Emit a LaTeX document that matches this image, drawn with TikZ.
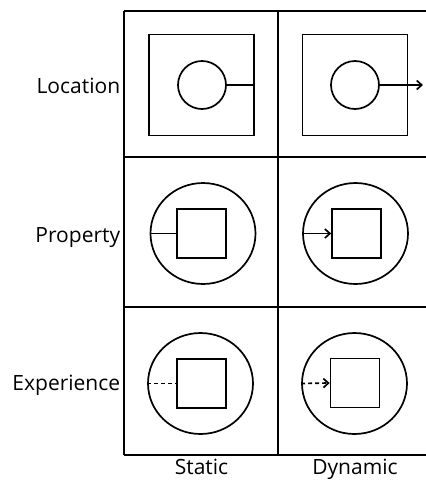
\documentclass[tikz,border=0pt]{standalone}
\usepackage{fontspec}
\setmainfont{Open Sans}
\usetikzlibrary{shapes.geometric,arrows.meta}
\begin{document}
\begin{tikzpicture}[x=1pt,y=-1pt,line width=1.7pt,
    bigbox/.style={draw,rectangle,minimum width=105pt,minimum height=101pt,inner sep=0pt},
    smallbox/.style={draw,rectangle,minimum size=49pt,inner sep=0pt},
    ring/.style={draw,circle,minimum size=48pt,inner sep=0pt},
    oval/.style={draw,ellipse,minimum width=105pt,minimum height=101pt,inner sep=0pt},
    lbl/.style={font=\fontsize{21}{25}\selectfont},
    tip/.style={-{Straight Barb[length=5pt,width=9pt,line width=1.7pt]}}]
    \useasboundingbox (0,0) rectangle (426,480);
    % table lines, cut off at the right
    \draw (124,11) -- (124,455);
    \draw (278,11) -- (278,455);
    \draw (124,11) -- (426,11);
    \draw (124,157) -- (426,157);
    \draw (124,307) -- (426,307);
    \draw (124,455) -- (426,455);
    % location
    \node[bigbox] (locS) at (201.5,85) {};
    \node[ring] (locSc) at (202,85) {};
    \draw (locSc.east) -- (locS.east);
    \node[bigbox] (locD) at (355,85) {};
    \node[ring] (locDc) at (355,85) {};
    \coordinate (locDout) at (423,85);
    \draw[tip] (locDc.east) -- (locDout);
    % property
    \node[oval] (propS) at (203,233.5) {};
    \node[smallbox] (propSq) at (201.5,233.5) {};
    \draw (propS.west) -- (propSq.west);
    \node[oval] (propD) at (355.5,233.5) {};
    \node[smallbox] (propDq) at (356.5,233.5) {};
    \draw[tip] (propD.west) -- (propDq.west);
    % experience
    \node[oval] (expS) at (200.5,383.5) {};
    \node[smallbox] (expSq) at (201.5,383.5) {};
    \draw[dash pattern=on 4pt off 3pt] (expS.west) -- (expSq.west);
    \node[oval] (expD) at (354.5,383.5) {};
    \node[smallbox] (expDq) at (355,383) {};
    \draw[tip,dash pattern=on 4pt off 3pt] (expD.west) -- (expDq.west);
    % row and column labels
    \node[lbl,anchor=base east,inner sep=0pt] (rowLoc) at (121,93) {Location};
    \node[lbl,anchor=base east,inner sep=0pt] (rowProp) at (121,242) {Property};
    \node[lbl,anchor=base east,inner sep=0pt] (rowExp) at (121,390) {Experience};
    \node[lbl,anchor=base,inner sep=0pt] (colStat) at (201.5,474) {Static};
    \node[lbl,anchor=base,inner sep=0pt] (colDyn) at (355,474) {Dynamic};
\end{tikzpicture}
\end{document}
